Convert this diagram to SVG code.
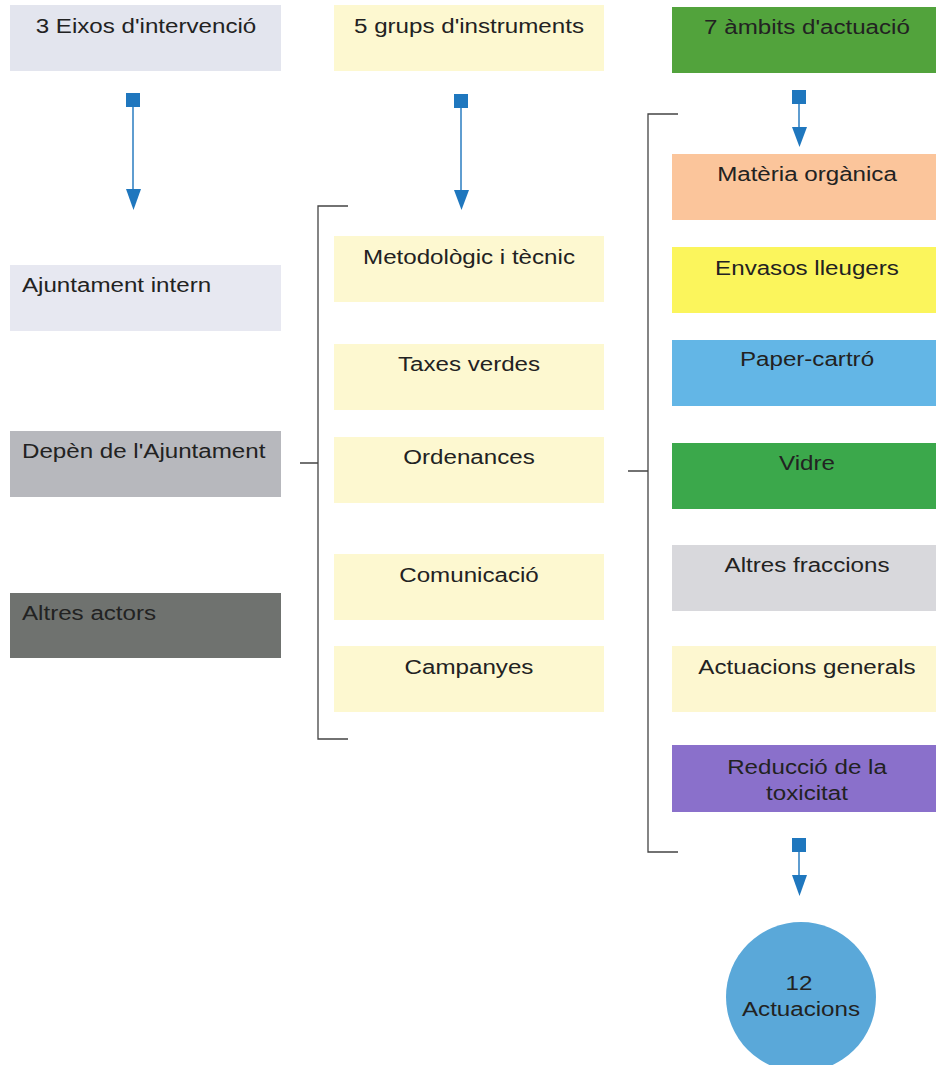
<svg xmlns="http://www.w3.org/2000/svg" width="936" height="1065" viewBox="0 0 936 1065">
<defs>
<style>
text{font-family:"Liberation Sans",Arial,sans-serif;font-size:21px;fill:#222}
.c{text-anchor:middle}
.br{fill:none;stroke:#444;stroke-width:1.3}
.cn{stroke:#2a7cc0;stroke-width:1.5}
.sq{fill:#1f77be}
.tr{fill:#1f77be}
</style>
</defs>
<rect width="936" height="1065" fill="#fff"/>
<g id="n-eixos"><rect x="10" y="5" width="271" height="66" fill="#e3e5ee"/><text class="c" transform="translate(146 33) scale(1.15 1)">3 Eixos d'intervenció</text></g>
<g id="n-grups"><rect x="334" y="5" width="270" height="66" fill="#fdf8d0"/><text class="c" transform="translate(469 33) scale(1.15 1)">5 grups d'instruments</text></g>
<g id="n-ambits"><rect x="672" y="7" width="264" height="66" fill="#52a33c"/><text class="c" transform="translate(807 34) scale(1.15 1)">7 àmbits d'actuació</text></g>
<g id="n-intern"><rect x="10" y="265" width="271" height="66" fill="#e7e8f1"/><text transform="translate(22 292) scale(1.15 1)">Ajuntament intern</text></g>
<g id="n-depen"><rect x="10" y="431" width="271" height="66" fill="#b7b8bd"/><text transform="translate(22 458) scale(1.15 1)">Depèn de l'Ajuntament</text></g>
<g id="n-altres"><rect x="10" y="593" width="271" height="65" fill="#6f726f"/><text transform="translate(22 620) scale(1.15 1)">Altres actors</text></g>
<g id="n-metod"><rect x="334" y="236" width="270" height="66" fill="#fdf8d0"/><text class="c" transform="translate(469 264) scale(1.15 1)">Metodològic i tècnic</text></g>
<g id="n-taxes"><rect x="334" y="344" width="270" height="66" fill="#fdf8d0"/><text class="c" transform="translate(469 371) scale(1.15 1)">Taxes verdes</text></g>
<g id="n-orden"><rect x="334" y="437" width="270" height="66" fill="#fdf8d0"/><text class="c" transform="translate(469 464) scale(1.15 1)">Ordenances</text></g>
<g id="n-comun"><rect x="334" y="554" width="270" height="66" fill="#fdf8d0"/><text class="c" transform="translate(469 582) scale(1.15 1)">Comunicació</text></g>
<g id="n-camp"><rect x="334" y="646" width="270" height="66" fill="#fdf8d0"/><text class="c" transform="translate(469 674) scale(1.15 1)">Campanyes</text></g>
<g id="n-materia"><rect x="672" y="154" width="264" height="66" fill="#fbc59b"/><text class="c" transform="translate(807 181) scale(1.15 1)">Matèria orgànica</text></g>
<g id="n-envasos"><rect x="672" y="247" width="264" height="66" fill="#fbf55c"/><text class="c" transform="translate(807 275) scale(1.15 1)">Envasos lleugers</text></g>
<g id="n-paper"><rect x="672" y="340" width="264" height="66" fill="#63b6e6"/><text class="c" transform="translate(807 366) scale(1.15 1)">Paper-cartró</text></g>
<g id="n-vidre"><rect x="672" y="443" width="264" height="66" fill="#3ba84b"/><text class="c" transform="translate(807 470) scale(1.15 1)">Vidre</text></g>
<g id="n-fraccions"><rect x="672" y="545" width="264" height="66" fill="#d8d8dc"/><text class="c" transform="translate(807 572) scale(1.15 1)">Altres fraccions</text></g>
<g id="n-generals"><rect x="672" y="646" width="264" height="66" fill="#fdf7d0"/><text class="c" transform="translate(807 674) scale(1.15 1)">Actuacions generals</text></g>
<g id="n-toxic"><rect x="672" y="745" width="264" height="67" fill="#8a70cb"/><text class="c" transform="translate(807 774) scale(1.15 1)">Reducció de la</text><text class="c" transform="translate(807 800) scale(1.15 1)">toxicitat</text></g>
<g id="n-actuacions"><circle cx="801" cy="997" r="75" fill="#5aa8d9"/><text class="c" transform="translate(799 990) scale(1.15 1)">12</text><text class="c" transform="translate(801 1016) scale(1.15 1)">Actuacions</text></g>
<g id="connectors">
<line class="cn" x1="133" y1="100" x2="133" y2="192"/><rect class="sq" x="126" y="93" width="14" height="14"/><polygon class="tr" points="126,189 141,189 133.5,210"/>
<line class="cn" x1="461" y1="100" x2="461" y2="192"/><rect class="sq" x="454" y="94" width="14" height="14"/><polygon class="tr" points="454,190 469,190 461.5,210"/>
<line class="cn" x1="799" y1="97" x2="799" y2="130"/><rect class="sq" x="792" y="90" width="14" height="14"/><polygon class="tr" points="792,127 807,127 799.5,147"/>
<line class="cn" x1="799" y1="845" x2="799" y2="878"/><rect class="sq" x="792" y="838" width="14" height="14"/><polygon class="tr" points="792,875 807,875 799.5,896"/>
<path class="br" d="M348,206 H318 V739 H348 M300,463 H318"/>
<path class="br" d="M678,114 H648 V852 H678 M628,471 H648"/>
</g>
</svg>
